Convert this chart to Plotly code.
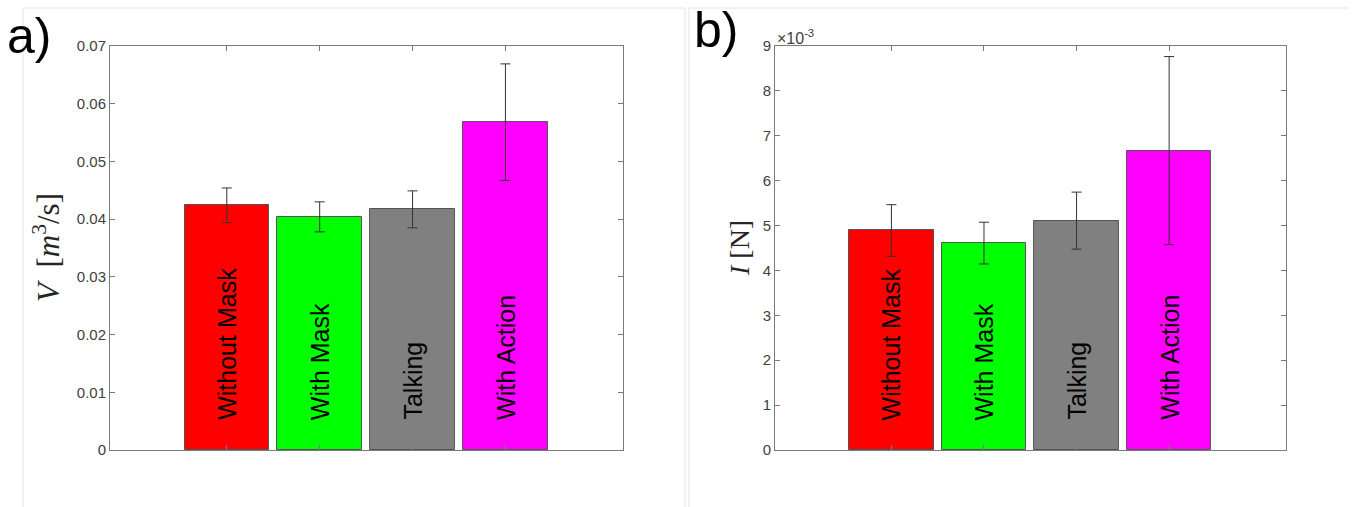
import plotly.graph_objects as go

categories = ["Without Mask", "With Mask", "Talking", "With Action"]
colors = ["#ff0000", "#00ff00", "#808080", "#ff00ff"]

V_mean = [0.0424, 0.0404, 0.0417, 0.0568]
V_err = [0.0030, 0.0026, 0.0032, 0.0101]
V_ticks = [0, 0.01, 0.02, 0.03, 0.04, 0.05, 0.06, 0.07]
V_ticktext = ["0", "0.01", "0.02", "0.03", "0.04", "0.05", "0.06", "0.07"]

I_mean = [4.89e-3, 4.61e-3, 5.11e-3, 6.67e-3]
I_err = [0.575e-3, 0.465e-3, 0.635e-3, 2.095e-3]
I_ticks = [0, 1e-3, 2e-3, 3e-3, 4e-3, 5e-3, 6e-3, 7e-3, 8e-3, 9e-3]
I_ticktext = ["0", "1", "2", "3", "4", "5", "6", "7", "8", "9"]

W, H = 1355, 507
FONT = "Liberation Sans, Arial, sans-serif"
AXC = "#7a7a7a"
TXC = "#404040"

fig = go.Figure()

for means, errs, xa, ya in [(V_mean, V_err, "x", "y"), (I_mean, I_err, "x2", "y2")]:
    fig.add_trace(go.Bar(
        x=categories, y=means, width=0.91,
        marker=dict(color=colors, line=dict(color="#555555", width=1)),
        error_y=dict(type="data", array=errs, visible=True, color="#333333",
                     thickness=1, width=5),
        xaxis=xa, yaxis=ya, showlegend=False, hoverinfo="skip",
    ))

def px(x):
    return x / W

def py(y):
    return 1 - y / H

yd = [py(450), py(46)]
common_x = dict(type="category", range=[-1.2575, 4.2625], showticklabels=False,
                ticks="inside", ticklen=5, tickcolor=AXC, showline=True,
                linecolor=AXC, linewidth=1, mirror="ticks", showgrid=False,
                zeroline=False, automargin=False)
common_y = dict(ticks="inside", ticklen=5, tickcolor=AXC, showline=True,
                linecolor=AXC, linewidth=1, mirror="ticks", showgrid=False,
                zeroline=False, automargin=False,
                tickfont=dict(family=FONT, size=15, color=TXC))

fig.update_layout(
    width=W, height=H, autosize=False, margin=dict(l=0, r=0, t=0, b=0, pad=0),
    paper_bgcolor="white", plot_bgcolor="white",
    xaxis=dict(domain=[px(110), px(622.7)], anchor="y", **common_x),
    yaxis=dict(domain=yd, anchor="x", range=[0, 0.07], tickvals=V_ticks,
               ticktext=V_ticktext, **common_y),
    xaxis2=dict(domain=[px(775), px(1286)], anchor="y2", **common_x),
    yaxis2=dict(domain=yd, anchor="x2", range=[0, 0.009], tickvals=I_ticks,
                ticktext=I_ticktext, **common_y),
    bargap=0,
)

ann = []
for xa, ya in [("x", "y"), ("x2", "y2")]:
    for c in categories:
        ann.append(dict(x=c, y=0, xref=xa, yref=ya, text=c, textangle=-90,
                        showarrow=False, xanchor="center", yanchor="bottom",
                        yshift=28, font=dict(family=FONT, size=25, color="black")))

ann += [
    dict(x=px(46), y=py(248), xref="paper", yref="paper",
         text="<i>V</i>  [<i>m</i><sup>3</sup>/s]", textangle=-90, showarrow=False,
         xanchor="center", yanchor="middle",
         font=dict(family="Liberation Serif, Times New Roman, serif", size=31, color="#262626")),
    dict(x=px(739), y=py(248), xref="paper", yref="paper",
         text="<i>I</i> [N]", textangle=-90, showarrow=False,
         xanchor="center", yanchor="middle",
         font=dict(family="Liberation Serif, Times New Roman, serif", size=28, color="#262626")),
    dict(x=px(5), y=py(6), xref="paper", yref="paper", text="a)", showarrow=False,
         xanchor="left", yanchor="top", font=dict(family=FONT, size=50, color="black")),
    dict(x=px(692), y=py(0), xref="paper", yref="paper", text="b)", showarrow=False,
         xanchor="left", yanchor="top", font=dict(family=FONT, size=50, color="black")),
    dict(x=px(775), y=py(49), xref="paper", yref="paper",
         text="×10<sup>-3</sup>", showarrow=False,
         xanchor="left", yanchor="bottom", font=dict(family=FONT, size=16, color=TXC)),
]
fig.update_layout(annotations=ann)

FR = "#e3e3e3"
shapes = [
    dict(type="line", xref="paper", yref="paper", x0=px(23), x1=px(23), y0=0, y1=py(8)),
    dict(type="line", xref="paper", yref="paper", x0=px(23), x1=px(685), y0=py(8), y1=py(8)),
    dict(type="line", xref="paper", yref="paper", x0=px(685), x1=px(685), y0=0, y1=py(8)),
    dict(type="line", xref="paper", yref="paper", x0=px(689), x1=px(689), y0=0, y1=py(8)),
    dict(type="line", xref="paper", yref="paper", x0=px(689), x1=px(1348), y0=py(8), y1=py(8)),
]
for s in shapes:
    s["line"] = dict(color=FR, width=1)
    s["layer"] = "below"
fig.update_layout(shapes=shapes)

fig.write_html(
    "out.html",
    config={"responsive": False, "displayModeBar": False},
    post_script="document.body.style.margin='0';document.body.style.overflow='hidden';",
)
